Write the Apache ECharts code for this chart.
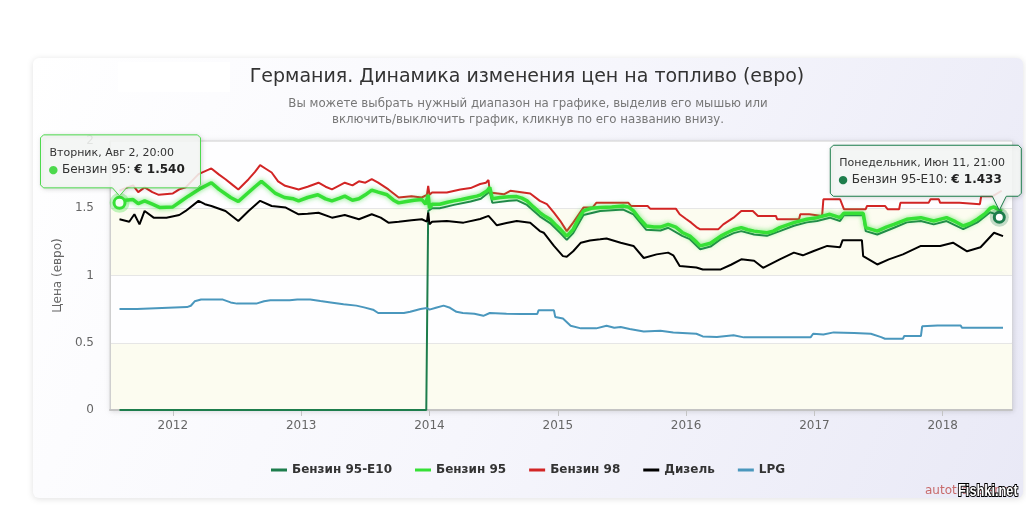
<!DOCTYPE html>
<html><head><meta charset="utf-8">
<script src="https://cdn.jsdelivr.net/npm/echarts@6/dist/echarts.min.js"></script>
<style>html,body{margin:0;padding:0;background:#fff}#c{width:1026px;height:507px}</style>
</head><body><div id="c"></div>
<script>
// ---- DATA (x = decimal year, y = price in euro) ----
const seriesNames = ['Бензин 95-E10', 'Бензин 95', 'Бензин 98', 'Дизель', 'LPG'];
const xTickYears = [2012, 2013, 2014, 2015, 2016, 2017, 2018];
const yTicks = [0, 0.5, 1, 1.5, 2];

const e10Years = [2011.584,2013.975,2013.99,2014.02,2014.08,2014.19,2014.32,2014.40,2014.47,2014.49,2014.62,2014.68,2014.76,2014.86,2014.94,2015.02,2015.07,2015.12,2015.20,2015.33,2015.51,2015.59,2015.69,2015.80,2015.86,2015.97,2016.03,2016.11,2016.19,2016.27,2016.37,2016.43,2016.53,2016.63,2016.73,2016.84,2016.94,2017.02,2017.12,2017.20,2017.23,2017.38,2017.40,2017.49,2017.62,2017.72,2017.83,2017.93,2018.03,2018.16,2018.27,2018.37,2018.40,2018.42,2018.441];
const e10Values = [0,0,1.48,1.50,1.50,1.525,1.55,1.57,1.625,1.54,1.555,1.56,1.525,1.44,1.39,1.315,1.265,1.315,1.45,1.48,1.49,1.455,1.34,1.335,1.355,1.295,1.27,1.195,1.215,1.27,1.315,1.33,1.305,1.295,1.33,1.37,1.395,1.405,1.43,1.405,1.448,1.448,1.33,1.305,1.355,1.395,1.405,1.38,1.405,1.345,1.395,1.47,1.46,1.45,1.433];

const b95Years = [2011.584,2011.63,2011.69,2011.73,2011.78,2011.84,2011.90,2012.00,2012.06,2012.12,2012.22,2012.30,2012.36,2012.45,2012.51,2012.58,2012.64,2012.69,2012.74,2012.80,2012.87,2012.94,2012.98,2013.05,2013.13,2013.19,2013.24,2013.30,2013.34,2013.40,2013.45,2013.50,2013.55,2013.60,2013.67,2013.72,2013.76,2013.82,2013.88,2013.94,2013.97,2013.99,2014.00,2014.02,2014.08,2014.14,2014.19,2014.25,2014.32,2014.37,2014.40,2014.45,2014.47,2014.49,2014.55,2014.62,2014.68,2014.72,2014.76,2014.81,2014.86,2014.90,2014.94,2014.98,2015.02,2015.07,2015.12,2015.16,2015.20,2015.26,2015.33,2015.42,2015.51,2015.55,2015.59,2015.64,2015.69,2015.75,2015.80,2015.86,2015.92,2015.97,2016.03,2016.08,2016.11,2016.19,2016.27,2016.32,2016.37,2016.43,2016.48,2016.53,2016.63,2016.68,2016.73,2016.84,2016.94,2017.02,2017.12,2017.20,2017.23,2017.38,2017.40,2017.49,2017.56,2017.62,2017.72,2017.83,2017.93,2018.03,2018.10,2018.16,2018.22,2018.27,2018.33,2018.37,2018.40,2018.46];
const b95Values = [1.540,1.56,1.565,1.535,1.555,1.53,1.505,1.51,1.55,1.59,1.65,1.69,1.64,1.58,1.55,1.61,1.66,1.70,1.66,1.61,1.58,1.57,1.555,1.58,1.60,1.57,1.555,1.575,1.59,1.56,1.57,1.60,1.635,1.62,1.60,1.56,1.54,1.55,1.56,1.565,1.53,1.60,1.50,1.53,1.53,1.545,1.555,1.565,1.58,1.59,1.60,1.63,1.655,1.57,1.58,1.585,1.587,1.575,1.555,1.51,1.468,1.44,1.418,1.38,1.343,1.293,1.343,1.42,1.48,1.50,1.505,1.51,1.517,1.51,1.48,1.42,1.368,1.36,1.36,1.38,1.36,1.32,1.293,1.25,1.22,1.24,1.293,1.318,1.34,1.356,1.34,1.33,1.318,1.33,1.356,1.393,1.418,1.43,1.455,1.43,1.463,1.463,1.356,1.33,1.36,1.38,1.418,1.43,1.405,1.43,1.40,1.368,1.39,1.418,1.46,1.50,1.51,1.475];

const b98Years = [2011.584,2011.63,2011.69,2011.73,2011.78,2011.84,2011.89,2012.00,2012.05,2012.10,2012.20,2012.30,2012.36,2012.41,2012.47,2012.51,2012.59,2012.64,2012.68,2012.73,2012.77,2012.82,2012.875,2012.98,2013.05,2013.135,2013.19,2013.24,2013.34,2013.40,2013.45,2013.50,2013.55,2013.60,2013.68,2013.76,2013.86,2013.94,2013.98,2013.99,2014.00,2014.02,2014.135,2014.24,2014.32,2014.395,2014.44,2014.46,2014.47,2014.58,2014.63,2014.785,2014.86,2014.915,2014.97,2015.02,2015.07,2015.12,2015.20,2015.27,2015.30,2015.55,2015.57,2015.70,2015.72,2015.92,2015.95,2016.00,2016.04,2016.08,2016.11,2016.25,2016.29,2016.37,2016.43,2016.52,2016.56,2016.70,2016.71,2016.88,2016.89,2016.96,2016.97,2017.06,2017.07,2017.20,2017.23,2017.40,2017.41,2017.55,2017.57,2017.66,2017.67,2017.89,2017.905,2017.97,2017.98,2018.13,2018.14,2018.29,2018.295,2018.30,2018.39,2018.40,2018.46];
const b98Values = [1.63,1.65,1.67,1.62,1.655,1.62,1.60,1.61,1.64,1.655,1.754,1.796,1.75,1.716,1.67,1.64,1.716,1.77,1.82,1.79,1.766,1.70,1.667,1.64,1.66,1.69,1.66,1.64,1.69,1.67,1.70,1.69,1.716,1.69,1.64,1.58,1.59,1.58,1.60,1.667,1.60,1.617,1.617,1.64,1.65,1.68,1.69,1.71,1.617,1.604,1.63,1.61,1.555,1.53,1.468,1.405,1.33,1.393,1.505,1.505,1.54,1.54,1.517,1.517,1.497,1.497,1.455,1.42,1.393,1.36,1.343,1.343,1.38,1.43,1.48,1.48,1.443,1.443,1.418,1.418,1.455,1.455,1.443,1.443,1.567,1.567,1.493,1.493,1.517,1.517,1.493,1.493,1.54,1.54,1.567,1.567,1.54,1.54,1.53,1.53,1.517,1.59,1.59,1.60,1.63];

const dieselYears = [2011.584,2011.66,2011.70,2011.74,2011.78,2011.85,2011.95,2012.05,2012.10,2012.20,2012.25,2012.30,2012.41,2012.51,2012.59,2012.68,2012.77,2012.88,2012.98,2013.05,2013.135,2013.24,2013.34,2013.45,2013.55,2013.62,2013.68,2013.76,2013.86,2013.94,2013.98,2013.99,2014.00,2014.02,2014.135,2014.265,2014.395,2014.46,2014.50,2014.525,2014.60,2014.68,2014.785,2014.86,2014.89,2014.97,2015.04,2015.07,2015.12,2015.18,2015.25,2015.33,2015.38,2015.49,2015.59,2015.67,2015.77,2015.86,2015.90,2015.95,2016.08,2016.13,2016.27,2016.35,2016.43,2016.53,2016.60,2016.73,2016.84,2016.91,2016.99,2017.10,2017.20,2017.22,2017.37,2017.38,2017.49,2017.58,2017.69,2017.83,2017.98,2018.08,2018.19,2018.295,2018.40,2018.47];
const dieselValues = [1.418,1.40,1.455,1.38,1.48,1.43,1.43,1.45,1.48,1.555,1.53,1.517,1.48,1.405,1.48,1.555,1.517,1.505,1.455,1.46,1.467,1.43,1.45,1.418,1.455,1.43,1.393,1.40,1.41,1.418,1.40,1.467,1.38,1.40,1.405,1.393,1.42,1.443,1.40,1.373,1.39,1.405,1.393,1.33,1.318,1.22,1.144,1.14,1.18,1.244,1.26,1.269,1.275,1.244,1.22,1.13,1.157,1.17,1.15,1.07,1.06,1.045,1.045,1.08,1.12,1.11,1.057,1.12,1.17,1.15,1.18,1.22,1.21,1.263,1.263,1.144,1.082,1.12,1.157,1.22,1.22,1.244,1.18,1.21,1.318,1.293];

const lpgYears = [2011.584,2011.72,2011.73,2012.11,2012.14,2012.17,2012.22,2012.39,2012.45,2012.50,2012.65,2012.71,2012.76,2012.91,2012.97,2013.07,2013.15,2013.23,2013.33,2013.43,2013.49,2013.56,2013.60,2013.80,2013.85,2013.93,2013.98,2014.00,2014.05,2014.11,2014.16,2014.21,2014.26,2014.35,2014.42,2014.47,2014.60,2014.71,2014.84,2014.85,2014.97,2014.98,2015.04,2015.10,2015.18,2015.30,2015.38,2015.44,2015.49,2015.56,2015.67,2015.80,2015.90,2016.08,2016.13,2016.24,2016.37,2016.45,2016.97,2016.99,2017.07,2017.15,2017.31,2017.44,2017.52,2017.55,2017.69,2017.70,2017.83,2017.84,2017.96,2018.14,2018.15,2018.47];
const lpgValues = [0.751,0.751,0.763,0.765,0.775,0.808,0.821,0.821,0.80,0.791,0.791,0.808,0.816,0.816,0.821,0.821,0.81,0.80,0.786,0.776,0.763,0.746,0.721,0.721,0.73,0.751,0.758,0.746,0.76,0.776,0.76,0.73,0.721,0.715,0.70,0.721,0.715,0.714,0.714,0.741,0.741,0.692,0.68,0.627,0.607,0.607,0.627,0.612,0.617,0.602,0.584,0.589,0.577,0.567,0.547,0.542,0.555,0.54,0.54,0.567,0.562,0.577,0.572,0.567,0.542,0.53,0.53,0.55,0.55,0.622,0.629,0.629,0.612,0.612];

// tooltip texts
const tipStart = { date: 'Вторник, Авг 2, 20:00', name: 'Бензин 95', value: '€ 1.540' };
const tipEnd = { date: 'Понедельник, Июн 11, 21:00', name: 'Бензин 95-E10', value: '€ 1.433' };

const titleText = 'Германия. Динамика изменения цен на топливо (евро)';
const subtitleLines = ['Вы можете выбрать нужный диапазон на графике, выделив его мышью или', 'включить/выключить график, кликнув по его названию внизу.'];

// ---- STYLE ----
const FONT = "'DejaVu Sans', Verdana, sans-serif";
const colors = ['#1d7d4c', '#36e036', '#d22525', '#000000', '#4a97bd'];
const zip = (xs, ys) => xs.map((x, i) => [x, ys[i]]);

const chart = echarts.init(document.getElementById('c'), null, { renderer: 'canvas' });

function lineSeries(name, data, color, width, extra) {
  return Object.assign({
    name, type: 'line', data, showSymbol: false, symbol: 'none', animation: false,
    lineStyle: { color, width }, itemStyle: { color }, sampling: null, silent: true
  }, extra || {});
}

const option = {
  animation: false,
  color: colors,
  textStyle: { fontFamily: FONT },
  grid: {
    left: 110, right: 14, top: 141, bottom: 97,
    show: true, backgroundColor: '#ffffff', borderColor: '#d4d4d4', borderWidth: 1,
    shadowBlur: 5, shadowColor: 'rgba(0,0,0,0.12)', shadowOffsetX: 1, shadowOffsetY: 1
  },
  xAxis: {
    type: 'value', min: 2011.51, max: 2018.54,
    axisLine: { show: true, lineStyle: { color: '#c4c4c4', width: 2 } },
    axisTick: { show: true, length: 6, lineStyle: { color: '#c4c4c4' }, customValues: xTickYears },
    axisLabel: { color: '#666', fontSize: 12, fontFamily: FONT, margin: 10, customValues: xTickYears, formatter: v => String(Math.round(v)) },
    splitLine: { show: false }
  },
  yAxis: {
    type: 'value', min: 0, max: 2, interval: 0.5,
    name: 'Цена (евро)', nameLocation: 'middle', nameGap: 40, nameRotate: 90,
    nameTextStyle: { color: '#666', fontSize: 12, fontFamily: FONT },
    axisLine: { show: true, lineStyle: { color: '#cfcfcf', width: 1 } },
    axisTick: { show: false },
    axisLabel: { color: '#666', fontSize: 12, fontFamily: FONT, margin: 16, customValues: yTicks },
    splitLine: { show: true, lineStyle: { color: '#e6e6e6', width: 1 } },
    splitArea: { show: true, areaStyle: { color: ['#fcfcf0', '#fefeff'] } }
  },
  legend: {
    data: seriesNames, left: 266, top: 459, itemGap: 23, itemWidth: 16, itemHeight: 3, icon: 'rect',
    textStyle: { color: '#333', fontSize: 12, fontWeight: 'bold', fontFamily: FONT }
  },
  series: [
    lineSeries(seriesNames[0], zip(e10Years, e10Values), colors[0], 2, {
      z: 3,
      markPoint: {
        symbol: 'circle', animation: false, silent: true, label: { show: false },
        data: [
          { coord: [e10Years[e10Years.length - 1], e10Values[e10Values.length - 1]], symbolSize: 19, itemStyle: { color: 'rgba(29,125,76,0.25)' } },
          { coord: [e10Years[e10Years.length - 1], e10Values[e10Values.length - 1]], symbolSize: 10, itemStyle: { color: '#ffffff', borderColor: colors[0], borderWidth: 3 } }
        ]
      }
    }),
    lineSeries(seriesNames[1], zip(b95Years, b95Values), colors[1], 3.5, {
      z: 4,
      lineStyle: { color: colors[1], width: 3.5, shadowBlur: 5, shadowColor: 'rgba(54,224,54,0.7)' },
      markPoint: {
        symbol: 'circle', animation: false, silent: true, label: { show: false },
        data: [
          { coord: [b95Years[0], b95Values[0]], symbolSize: 20, itemStyle: { color: 'rgba(54,224,54,0.3)' } },
          { coord: [b95Years[0], b95Values[0]], symbolSize: 11, itemStyle: { color: '#f2fff2', borderColor: colors[1], borderWidth: 3 } }
        ]
      }
    }),
    lineSeries(seriesNames[2], zip(b98Years, b98Values), colors[2], 2, { z: 3 }),
    lineSeries(seriesNames[3], zip(dieselYears, dieselValues), colors[3], 2, { z: 3 }),
    lineSeries(seriesNames[4], zip(lpgYears, lpgValues), colors[4], 2, { z: 3 })
  ]
};
chart.setOption(option);

// ---- decorations (card, titles, tooltips) ----
const p1 = chart.convertToPixel({ gridIndex: 0 }, [b95Years[0], b95Values[0]]);
const p2 = chart.convertToPixel({ gridIndex: 0 }, [e10Years[e10Years.length - 1], e10Values[e10Values.length - 1]]);

function tipGroup(p, box, tip, color) {
  const x = p[0] + box.dx, y = p[1] + box.dy, w = box.w, h = box.h;
  const ax = p[0], ay = p[1] - 7;
  return [
    { type: 'polygon', z: 200, silent: true,
      shape: { points: [[x + 3, y], [x + w - 3, y], [x + w, y + 3], [x + w, y + h - 3], [x + w - 3, y + h], [ax + 7, y + h], [ax, ay], [ax - 7, y + h], [x + 3, y + h], [x, y + h - 3], [x, y + 3]] },
      style: { fill: 'rgba(248,250,248,0.86)', stroke: color, lineWidth: 1, shadowBlur: 4, shadowColor: 'rgba(0,0,0,0.15)', shadowOffsetX: 1, shadowOffsetY: 1 } },
    { type: 'text', z: 201, silent: true, x: x + 9, y: y + 18,
      style: { text: tip.date, fill: '#333', font: '11px ' + FONT, verticalAlign: 'middle' } },
    { type: 'text', z: 201, silent: true, x: x + 8, y: y + 35,
      style: { text: '{d|●} ' + tip.name + ': {b|' + tip.value + '}', fill: '#333', font: '12px ' + FONT, verticalAlign: 'middle',
        rich: { d: { fill: color, fontSize: 11, fontFamily: FONT }, b: { fontWeight: 'bold', fontSize: 12, fill: '#222', fontFamily: FONT } } } }
  ];
}

const graphics = [
  { type: 'rect', z: -100, silent: true, shape: { x: 33, y: 58, width: 990, height: 440, r: 6 },
    style: { fill: new echarts.graphic.LinearGradient(0, 0, 1, 1, [{ offset: 0, color: '#ffffff' }, { offset: 0.5, color: '#f6f6fc' }, { offset: 1, color: '#e9e9f6' }]),
      shadowBlur: 6, shadowColor: 'rgba(0,0,0,0.12)', shadowOffsetY: 1 } },
  { type: 'rect', z: -99, silent: true, shape: { x: 118, y: 62, width: 112, height: 30 }, style: { fill: '#ffffff' } },
  { type: 'text', z: 10, silent: true, x: 527, y: 77,
    style: { text: titleText, fill: '#333', font: '19px ' + FONT, align: 'center', verticalAlign: 'middle' } },
  { type: 'text', z: 10, silent: true, x: 528, y: 104,
    style: { text: subtitleLines[0], fill: '#777', font: '11.8px ' + FONT, align: 'center', verticalAlign: 'middle' } },
  { type: 'text', z: 10, silent: true, x: 528, y: 120,
    style: { text: subtitleLines[1], fill: '#777', font: '11.8px ' + FONT, align: 'center', verticalAlign: 'middle' } },
  { type: 'text', z: 10, silent: true, x: 925, y: 491,
    style: { text: 'autotraveler.ru', fill: '#c86a6a', font: '12px ' + FONT, verticalAlign: 'middle' } },
  { type: 'text', z: 11, silent: true, x: 958, y: 492, scaleX: 0.8, originX: 0, originY: 0,
    style: { text: 'Fishki.net', fill: '#ffffff', stroke: '#000', lineWidth: 2, font: 'bold 16px "Liberation Sans", sans-serif', verticalAlign: 'middle' } }
].concat(
  tipGroup(p1, { dx: -79, dy: -68, w: 160, h: 53 }, tipStart, '#4cd94c'),
  tipGroup(p2, { dx: -169, dy: -72, w: 191, h: 51 }, tipEnd, colors[0])
);
chart.setOption({ graphic: { elements: graphics } });
</script>
</body></html>
